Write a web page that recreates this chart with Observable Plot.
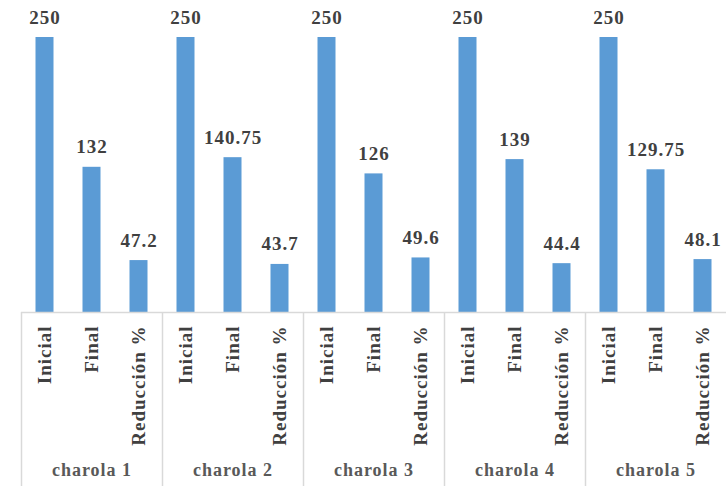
<!DOCTYPE html>
<html><head><meta charset="utf-8">
<script src="https://cdn.jsdelivr.net/npm/d3@7"></script>
<script src="https://cdn.jsdelivr.net/npm/@observablehq/plot@0.6"></script>
<style>body{margin:0;background:#fff}</style>
</head><body><div id="chart"></div>
<script>
const charolas = ["charola 1", "charola 2", "charola 3", "charola 4", "charola 5"];
const categorias = ["Inicial", "Final", "Reducción %"];
const inicial = [250, 250, 250, 250, 250];
const final = [132, 140.75, 126, 139, 129.75];
const reduccion = [47.2, 43.7, 49.6, 44.4, 48.1];

const data = charolas.flatMap((c, i) => [
  {charola: c, cat: categorias[0], v: inicial[i]},
  {charola: c, cat: categorias[1], v: final[i]},
  {charola: c, cat: categorias[2], v: reduccion[i]}
]);

const W = 726, H = 486, mL = 21, mR = 0, mT = 37, mB = 174;
const step = (W - mL - mR) / charolas.length / categorias.length;
const barW = 18;
const inset = (step - barW) / 2;

const chart = Plot.plot({
  width: W, height: H,
  marginLeft: mL, marginRight: mR, marginTop: mT, marginBottom: mB,
  fx: {domain: charolas, padding: 0, axis: null},
  x: {domain: categorias, padding: 0, axis: null},
  y: {domain: [0, 250], axis: null},
  style: {fontFamily: "'Liberation Serif', 'Times New Roman', serif", fontWeight: "bold", letterSpacing: "1px", background: "#fff"},
  marks: [
    Plot.barY(data, {fx: "charola", x: "cat", y: "v", fill: "#5b9bd5", insetLeft: inset, insetRight: inset}),
    Plot.ruleY([0], {stroke: "#d9d9d9", strokeWidth: 1.5}),
    Plot.ruleX(charolas, {fx: d => d, x: () => categorias[0], dx: -step / 2, stroke: "#d9d9d9", strokeWidth: 1.5, insetTop: H - mT - mB, insetBottom: -mB}),
    Plot.text(data, {fx: "charola", x: "cat", y: "v", text: d => String(d.v), lineAnchor: "bottom", dy: -14, fontSize: 19, fill: "#404040"}),
    Plot.axisX({tickRotate: -90, tickSize: 0, tickPadding: 13, fontSize: 19, fill: "#404040", label: null}),
    Plot.text(charolas, {fx: d => d, text: d => d, frameAnchor: "bottom", dy: 163, fontSize: 18, fill: "#595959"})
  ]
});
document.getElementById("chart").appendChild(chart);
</script>
</body></html>
